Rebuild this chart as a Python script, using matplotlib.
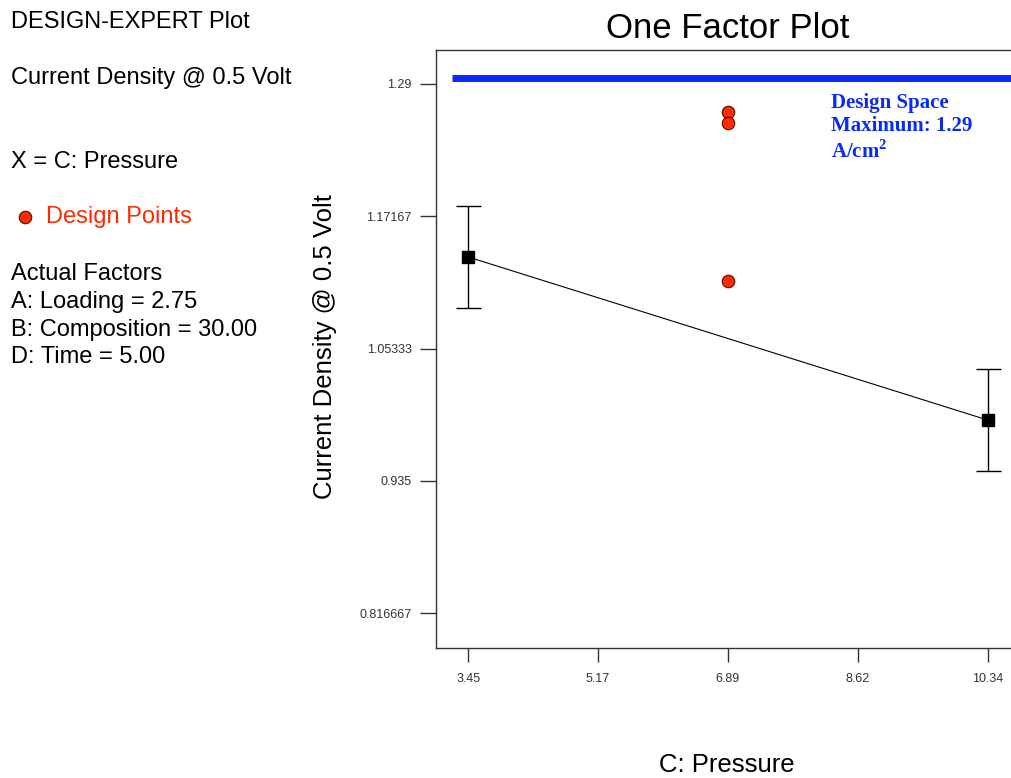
import matplotlib
matplotlib.use('Agg')
import matplotlib.pyplot as plt
import matplotlib.transforms as mtransforms

plt.rcParams['font.family'] = ['Liberation Sans', 'DejaVu Sans']
plt.rcParams['mathtext.fontset'] = 'custom'
plt.rcParams['mathtext.rm'] = 'Liberation Serif:bold'
plt.rcParams['mathtext.bf'] = 'Liberation Serif:bold'

# factor levels and predicted response with confidence intervals
pressure = [3.45, 10.34]
density_mean = [1.1351, 0.9894]
density_ci = [0.046, 0.0455]

# design points (all at the centre pressure)
design_x = [6.89, 6.89, 6.89]
design_y = [1.2647, 1.2549, 1.1137]

design_max = 1.29

x_ticks = [3.45, 5.17, 6.89, 8.62, 10.34]
x_tick_labels = ['3.45', '5.17', '6.89', '8.62', '10.34']
y_ticks = [0.816667, 0.935, 1.05333, 1.17167, 1.29]
y_tick_labels = ['0.816667', '0.935', '1.05333', '1.17167', '1.29']

fig = plt.figure(figsize=(10.11, 7.78), dpi=100)
ax = fig.add_axes([436 / 1011, 1 - 648 / 778, 575 / 1011, 598 / 778])

ax.set_xlim(3.022, 10.649)
ax.set_ylim(0.7857, 1.3201)

# mean response line with error bars
ax.plot(pressure, density_mean, color='black', lw=0.8, zorder=2)
ax.errorbar(pressure, density_mean, yerr=density_ci, fmt='none', ecolor='black',
            elinewidth=1.0, capsize=9, capthick=1.0, zorder=2)
ax.plot(pressure, density_mean, 's', color='black', markersize=9, zorder=3)

# design points
ax.plot(design_x, design_y, 'o', color='#ff2a00', markeredgecolor='#4a1000',
        markeredgewidth=0.8, markersize=9, zorder=4)

# design space maximum
shift = mtransforms.offset_copy(ax.transData, fig=fig, x=0, y=5.5, units='dots')
ax.plot([3.23, 10.7], [design_max, design_max], color='#0a2af5', lw=5,
        solid_capstyle='butt', transform=shift, clip_on=False, zorder=3)
ax.text(8.26, 1.2815, 'Design Space\nMaximum: %.2f\nA/cm$^{2}$' % design_max,
        color='#0a2af5', fontsize=15, fontweight='bold', family='Liberation Serif',
        va='top', ha='left', linespacing=1.22)

ax.set_xticks(x_ticks)
ax.set_xticklabels(x_tick_labels)
ax.set_yticks(y_ticks)
ax.set_yticklabels(y_tick_labels)
ax.tick_params(axis='both', direction='out', length=11.5, width=1.0, color='#333333',
               labelsize=9, labelcolor='#333333', pad=6)
ax.tick_params(axis='x', length=10, pad=8)

ax.spines['right'].set_visible(False)
for side in ['left', 'top', 'bottom']:
    ax.spines[side].set_linewidth(1.0)
    ax.spines[side].set_color('#333333')

fig.text(728 / 1011, 1 - 28 / 778, 'One Factor Plot', fontsize=25, ha='center', va='center')
fig.text(325 / 1011, 1 - 347 / 778, 'Current Density @ 0.5 Volt', fontsize=18.5,
         rotation=90, ha='center', va='center')
fig.text(727 / 1011, 1 - 765 / 778, 'C: Pressure', fontsize=18.5, ha='center', va='center')

# side panel
side_lines = [
    ('DESIGN-EXPERT Plot', 22),
    ('Current Density @ 0.5 Volt', 78),
    ('X = C: Pressure', 162),
    ('Actual Factors', 274),
    ('A: Loading = 2.75', 302),
    ('B: Composition = 30.00', 330),
    ('D: Time = 5.00', 357),
]
for label, y in side_lines:
    fig.text(11 / 1011, 1 - y / 778, label, fontsize=17, ha='left', va='center')

fig.text(46 / 1011, 1 - 217 / 778, 'Design Points', fontsize=17, color='#ff2a00',
         ha='left', va='center')
fig.lines.append(plt.Line2D([25 / 1011], [1 - 217 / 778], marker='o', color='#ff2a00',
                            markeredgecolor='#4a1000', markeredgewidth=0.8,
                            markersize=9, transform=fig.transFigure))

fig.savefig('out.png', dpi=100)
